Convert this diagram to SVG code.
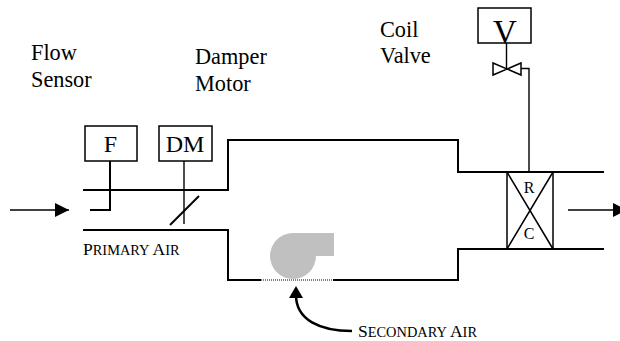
<svg xmlns="http://www.w3.org/2000/svg" width="620" height="341" viewBox="0 0 620 341">
<style>
text{font-family:"Liberation Serif","Times New Roman",serif;fill:#000}
.l{font-size:22.300px}
.sc{font-size:14.400px}
.c{font-size:17.500px}
.b{fill:#fff;stroke:#000;stroke-width:1.5}
.w{fill:none;stroke:#000;stroke-width:2}
.t{fill:none;stroke:#000;stroke-width:1.4}
</style>
<defs><marker id="a" markerUnits="userSpaceOnUse" markerWidth="15" markerHeight="14" refX="14" refY="7" orient="auto"><path d="M0 0L14 7L0 14Z" fill="#000"/></marker></defs>
<rect width="620" height="341" fill="#fff"/>
<g id="labels">
<text class="l" x="31" y="60">Flow</text><text class="l" x="31" y="87">Sensor</text>
<text class="l" x="195" y="64">Damper</text><text class="l" x="195" y="91">Motor</text>
<text class="l" x="380" y="37">Coil</text><text class="l" x="380" y="63">Valve</text>
<text class="sc" x="83" y="254.500"><tspan class="c">P</tspan>RIMARY <tspan class="c">A</tspan>IR</text>
<text class="sc" x="358" y="337"><tspan class="c">S</tspan>ECONDARY <tspan class="c">A</tspan>IR</text>
</g>
<g id="fan"><path d="M334 233H293A23 23 0 1 0 316 256H334Z" fill="#c0c0c0"/></g>
<g id="connectors">
<path class="w" d="M83 190H228V140H458V172H604"/>
<path class="w" d="M83 230H228V280H261M333 280H458V249H604"/>
<path d="M261 280H333" fill="none" stroke="#555" stroke-width="1.5" stroke-dasharray="1 1"/>
<path class="t" d="M10 210H69" marker-end="url(#a)"/>
<path class="t" d="M568 210H614"/><path d="M613 203L627 210L613 217Z" fill="#000"/>
<path class="w" d="M110 161V210H90"/>
<path class="t" d="M184 161V224"/>
<path class="w" d="M170 225L199 196"/>
<path class="t" d="M529 172V68.500H521"/>
<path class="t" d="M506.500 43V69"/>
<path d="M352 331C320 331 296 320 296 295" fill="none" stroke="#000" stroke-width="2.500"/>
<path d="M296 286L303 298H289Z" fill="#000"/>
</g>
<g id="f"><rect class="b" x="85" y="126" width="52" height="35"/><text x="110.500" y="152" font-size="24" text-anchor="middle">F</text></g>
<g id="dm"><rect class="b" x="159" y="126" width="53" height="35"/><text x="185" y="152" font-size="24" text-anchor="middle">DM</text></g>
<g id="v"><rect class="b" x="478" y="8" width="53" height="35"/><text x="505" y="43" font-size="33" text-anchor="middle">V</text></g>
<g id="valve"><path d="M493 63L521 75V63L493 75Z" fill="none" stroke="#000" stroke-width="1.500"/></g>
<g id="coil"><rect x="507" y="172" width="46" height="77" fill="none" stroke="#000" stroke-width="1.500"/><path d="M507 172L553 249M553 172L507 249" fill="none" stroke="#000" stroke-width="1.500"/><text x="529" y="193" font-size="16" text-anchor="middle">R</text><text x="529" y="239" font-size="16" text-anchor="middle">C</text></g>
</svg>
